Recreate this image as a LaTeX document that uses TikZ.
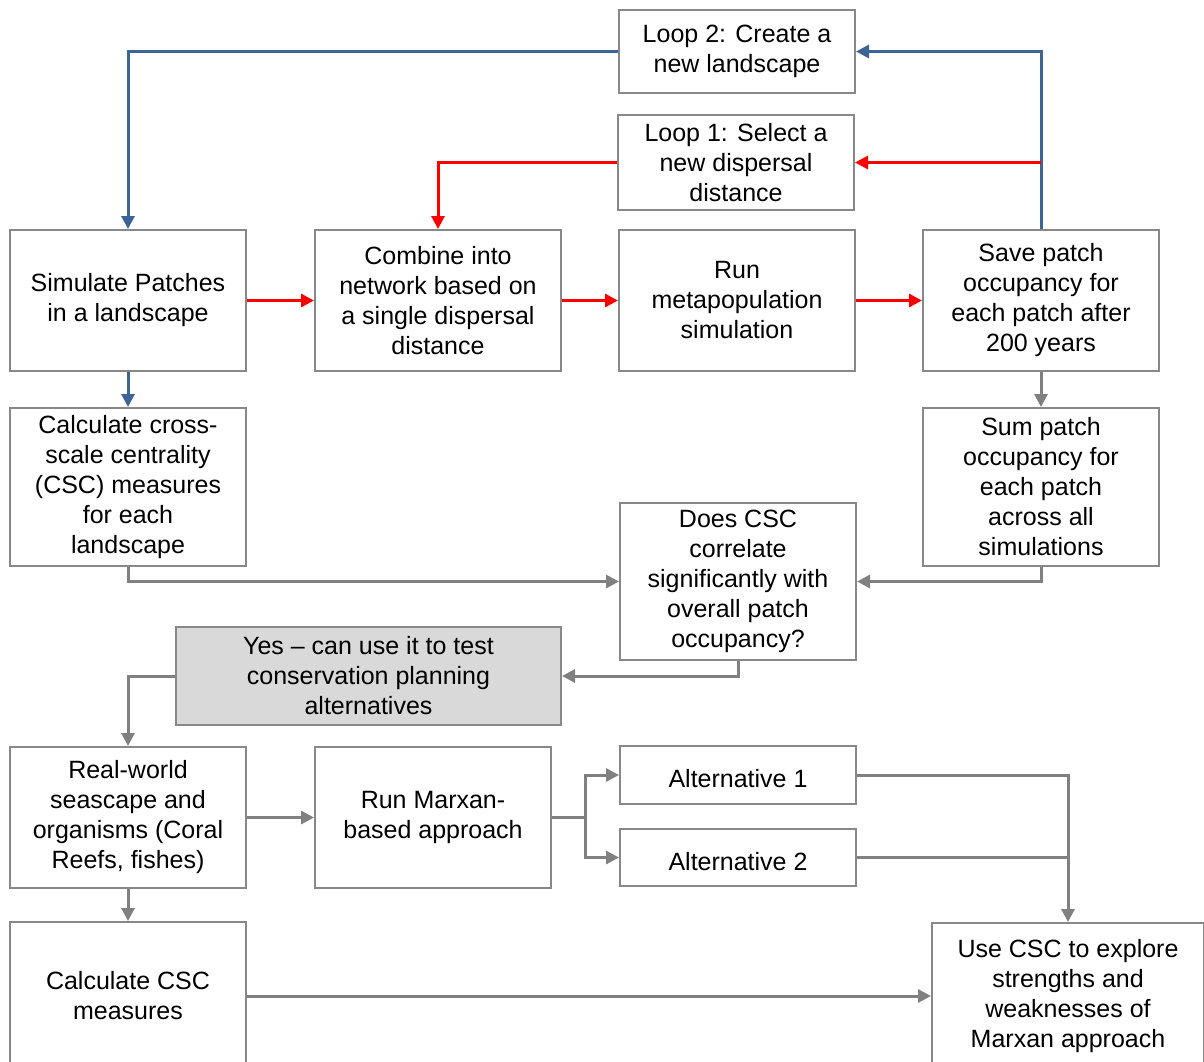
\documentclass[tikz,border=0pt]{standalone}
\usepackage{fontspec}
\setmainfont{Liberation Sans}
\usetikzlibrary{arrows.meta}
\definecolor{bluec}{HTML}{3C6496}
\definecolor{redc}{HTML}{FF0000}
\definecolor{grayc}{HTML}{808080}
\definecolor{boxc}{HTML}{888888}
\definecolor{fillc}{HTML}{D9D9D9}
\begin{document}
\begin{tikzpicture}[x=1pt,y=-1pt,
  box/.style={draw=boxc,line width=2pt,fill=white,align=center,inner sep=0pt,
    font=\fontsize{25}{30}\selectfont,
    execute at begin node={\rule{0pt}{26pt}}},
  tip/.style={-{Triangle[length=13pt,width=13pt]}},
  blueline/.style={draw=bluec,line width=3pt},
  redline/.style={draw=redc,line width=3pt},
  grayline/.style={draw=grayc,line width=3pt},
]
\useasboundingbox (0,0) rectangle (1204,1061);
\clip (0,0) rectangle (1204,1061);
\fill[white] (0,0) rectangle (1204,1061);

\node[box,minimum width=236pt,minimum height=83pt] (loop2) at (737,51.5) {Loop 2: Create a\\new landscape};
\node[box,minimum width=236pt,minimum height=95pt] (loop1) at (736,162.5) {Loop 1: Select a\\new dispersal\\distance};
\node[box,minimum width=236pt,minimum height=141pt] (sim) at (128,300.5) {Simulate Patches\\in a landscape};
\node[box,minimum width=246pt,minimum height=141pt] (comb) at (438,300.5) {Combine into\\network based on\\a single dispersal\\distance};
\node[box,minimum width=236pt,minimum height=141pt] (run) at (737,300.5) {Run\\metapopulation\\simulation};
\node[box,minimum width=236pt,minimum height=141pt] (save) at (1041,300.5) {Save patch\\occupancy for\\each patch after\\200 years};
\node[box,minimum width=236pt,minimum height=158pt] (calc) at (128,487) {Calculate cross-\\scale centrality\\(CSC) measures\\for each\\landscape};
\node[box,minimum width=236pt,minimum height=158pt] (sum) at (1041,487) {Sum patch\\occupancy for\\each patch\\across all\\simulations};
\node[box,minimum width=236pt,minimum height=157pt] (does) at (738,581.5) {Does CSC\\correlate\\significantly with\\overall patch\\occupancy?};
\node[box,fill=fillc,minimum width=385pt,minimum height=98pt] (yes) at (368.5,676) {Yes – can use it to test\\conservation planning\\alternatives};
\node[box,minimum width=236pt,minimum height=141pt] (real) at (128,817.5) {Real-world\\seascape and\\organisms (Coral\\Reefs, fishes)};
\node[box,minimum width=236pt,minimum height=141pt] (marx) at (433,817.5) {Run Marxan-\\based approach};
\node[box,minimum width=236pt,minimum height=58pt] (alt1) at (738,775) {Alternative 1};
\node[box,minimum width=236pt,minimum height=57pt] (alt2) at (738,857.5) {Alternative 2};
\node[box,minimum width=236pt,minimum height=148pt] (csc) at (128,996) {Calculate CSC\\measures};
\node[box,minimum width=272pt,minimum height=146pt] (use) at (1068,996) {Use CSC to explore\\strengths and\\weaknesses of\\Marxan approach};

% blue loop
\draw[blueline,tip] (save.north) |- (loop2.east);
\draw[blueline,tip] (loop2.west) -| (sim.north);
% red loop
\coordinate (rj) at (save.north |- loop1.east);
\draw[redline,tip] (rj) -- (loop1.east);
\draw[redline,tip] (loop1.west) -| (comb.north);
% red chain
\draw[redline,tip] (sim.east) -- (comb.west);
\draw[redline,tip] (comb.east) -- (run.west);
\draw[redline,tip] (run.east) -- (save.west);
% downward
\draw[blueline,tip] (sim.south) -- (calc.north);
\draw[grayline,tip] (save.south) -- (sum.north);
\draw[grayline,tip] (calc.south) |- (does.west);
\draw[grayline,tip] (sum.south) |- (does.east);
\draw[grayline,tip] (does.south) |- (yes.east);
\draw[grayline,tip] (yes.west) -| (real.north);
\draw[grayline,tip] (real.east) -- (marx.west);
\draw[grayline,tip] (real.south) -- (csc.north);
% split
\coordinate (split) at (585,817.5);
\draw[grayline] (marx.east) -- (split);
\draw[grayline,tip] (split) |- (alt1.west);
\draw[grayline,tip] (split) |- (alt2.west);
% merge
\draw[grayline,tip] (alt1.east) -| (use.north);
\coordinate (mj) at (use.north |- alt2.east);
\draw[grayline] (alt2.east) -- (mj);
\draw[grayline,tip] (csc.east) -- (use.west);
\end{tikzpicture}
\end{document}
